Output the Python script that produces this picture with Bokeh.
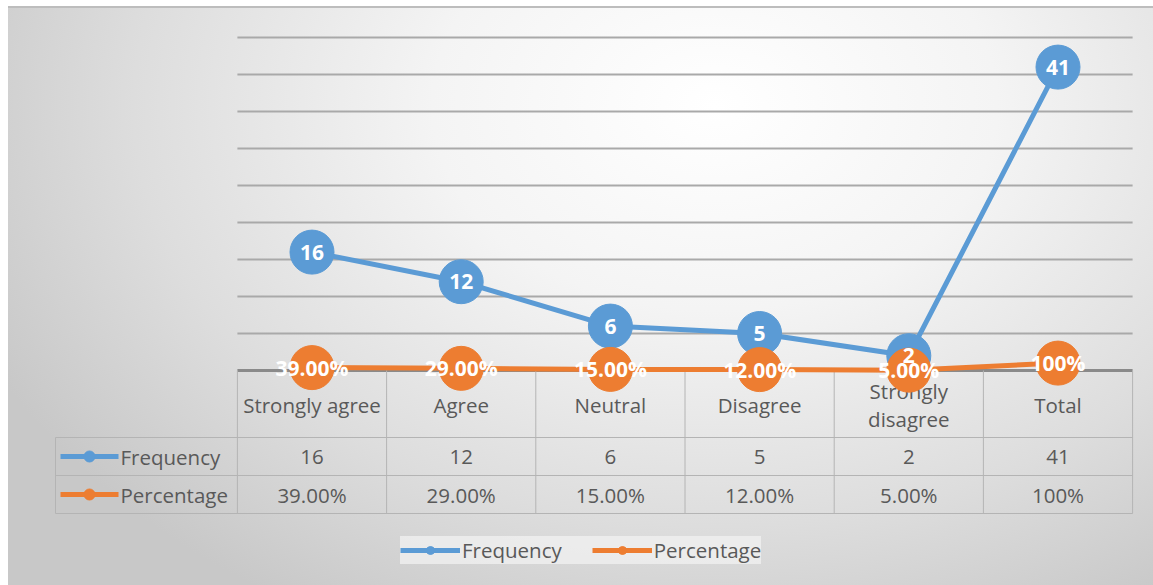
from bokeh.plotting import figure
from bokeh.models import ColumnDataSource, LabelSet, Legend, LegendItem, Range1d
from bokeh.core.properties import value
from bokeh.embed import file_html
from bokeh.resources import INLINE

# ---- data ----
categories = ["Strongly agree", "Agree", "Neutral", "Disagree", "Strongly\ndisagree", "Total"]
frequency = [16, 12, 6, 5, 2, 41]
percentage = [0.39, 0.29, 0.15, 0.12, 0.05, 1.00]
freq_labels = ["16", "12", "6", "5", "2", "41"]
pct_labels = ["39.00%", "29.00%", "15.00%", "12.00%", "5.00%", "100%"]
series_names = ["Frequency", "Percentage"]
grid_ticks = [5, 10, 15, 20, 25, 30, 35, 40, 45]

BLUE = "#5B9BD5"
ORANGE = "#ED7D31"
TXT = "#595959"
FONT = "Open Sans"
FS = "20.5px"

# ---- layout (pixels) ----
W, H = 1153, 585
CX0 = 311.5     # pixel x of first category
CW = 149.2      # pixel width of one category
Y0 = 370.0      # pixel y of value 0
UNIT = 7.4      # pixels per unit


def dx(px):
    return (px - CX0) / CW


def dy(py):
    return (Y0 - py) / UNIT


n = len(categories)
xs = list(range(n))

bg = ("linear-gradient(#ffffff,#ffffff) 0 0 / 100% 6px no-repeat, "
      "linear-gradient(#ffffff,#ffffff) 0 0 / 8px 100% no-repeat, "
      "linear-gradient(#bdbdbd,#bdbdbd) 8px 6px / 100% 2px no-repeat, "
      "radial-gradient(ellipse 70% 100% at 62% 18%, #ffffff 0%, #f4f4f4 35%, #dddddd 72%, #c8c8c8 100%)")

p = figure(width=W, height=H, x_range=Range1d(dx(0), dx(W)), y_range=Range1d(dy(H), dy(0)),
           output_backend="svg", toolbar_location=None, x_axis_type=None, y_axis_type=None,
           min_border=0, min_border_left=0, min_border_right=0, min_border_top=0, min_border_bottom=0,
           styles={"background": bg})
p.background_fill_alpha = 0
p.border_fill_alpha = 0
p.outline_line_color = None
p.grid.visible = False

# gridlines
left, right = -0.5, n - 0.5
p.segment(x0=[left] * len(grid_ticks), x1=[right] * len(grid_ticks), y0=grid_ticks, y1=grid_ticks,
          line_color="#a9a9a9", line_width=2)
# category axis line
p.segment(x0=[left], x1=[right], y0=[0], y1=[0], line_color="#8a8a8a", line_width=3)

# data table
TL = "#b4b4b4"
row1, row2, row3 = dy(437), dy(475), dy(513)
xl = dx(55)
p.segment(x0=[k - 0.5 for k in range(n + 1)], x1=[k - 0.5 for k in range(n + 1)],
          y0=[0] * (n + 1), y1=[row3] * (n + 1), line_color=TL, line_width=1)
p.segment(x0=[xl], x1=[xl], y0=[row1], y1=[row3], line_color=TL, line_width=1)
p.segment(x0=[xl] * 3, x1=[right] * 3, y0=[row1, row2, row3], y1=[row1, row2, row3],
          line_color=TL, line_width=1)

p.text(x=xs, y=[dy(404)] * n, text=categories, text_align="center", text_baseline="middle",
       text_font=value(FONT), text_font_size=FS, text_color=TXT, text_line_height=1.0)
p.text(x=xs, y=[dy(456)] * n, text=freq_labels, text_align="center", text_baseline="middle",
       text_font=value(FONT), text_font_size=FS, text_color=TXT)
p.text(x=xs, y=[dy(494)] * n, text=pct_labels, text_align="center", text_baseline="middle",
       text_font=value(FONT), text_font_size=FS, text_color=TXT)

# row keys in the table
for yy, col, name in [(dy(456), BLUE, series_names[0]), (dy(494), ORANGE, series_names[1])]:
    p.segment(x0=[dx(60)], x1=[dx(118)], y0=[yy], y1=[yy], line_color=col, line_width=5)
    p.scatter(x=[dx(89)], y=[yy], size=11, color=col)
    p.text(x=[dx(120)], y=[yy], text=[name], text_align="left", text_baseline="middle",
           text_font=value(FONT), text_font_size=FS, text_color=TXT)

# series
src = ColumnDataSource(dict(x=xs, freq=frequency, pct=percentage, fl=freq_labels, pl=pct_labels))
l1 = p.line("x", "freq", source=src, line_color=BLUE, line_width=5)
m1 = p.scatter("x", "freq", source=src, size=44, fill_color=BLUE, line_color=BLUE)
l2 = p.line("x", "pct", source=src, line_color=ORANGE, line_width=5)
m2 = p.scatter("x", "pct", source=src, size=44, fill_color=ORANGE, line_color=ORANGE)

for col, txt in [("freq", "fl"), ("pct", "pl")]:
    p.add_layout(LabelSet(x="x", y=col, text=txt, source=src, text_align="center",
                          text_baseline="middle", text_color="white", text_font=value(FONT),
                          text_font_size="21px", text_font_style="bold"))

legend = Legend(items=[LegendItem(label=series_names[0], renderers=[l1, m1]),
                       LegendItem(label=series_names[1], renderers=[l2, m2])],
                location=(400, 21), orientation="horizontal", margin=0,
                glyph_width=60, glyph_height=20, label_standoff=2, spacing=30, padding=9,
                label_text_font=FONT, label_text_font_size=FS, label_text_color=TXT,
                background_fill_color="#f2f2f2", background_fill_alpha=0.75,
                border_line_color=None)
p.add_layout(legend)

open("out.html", "w").write(file_html(p, INLINE))
